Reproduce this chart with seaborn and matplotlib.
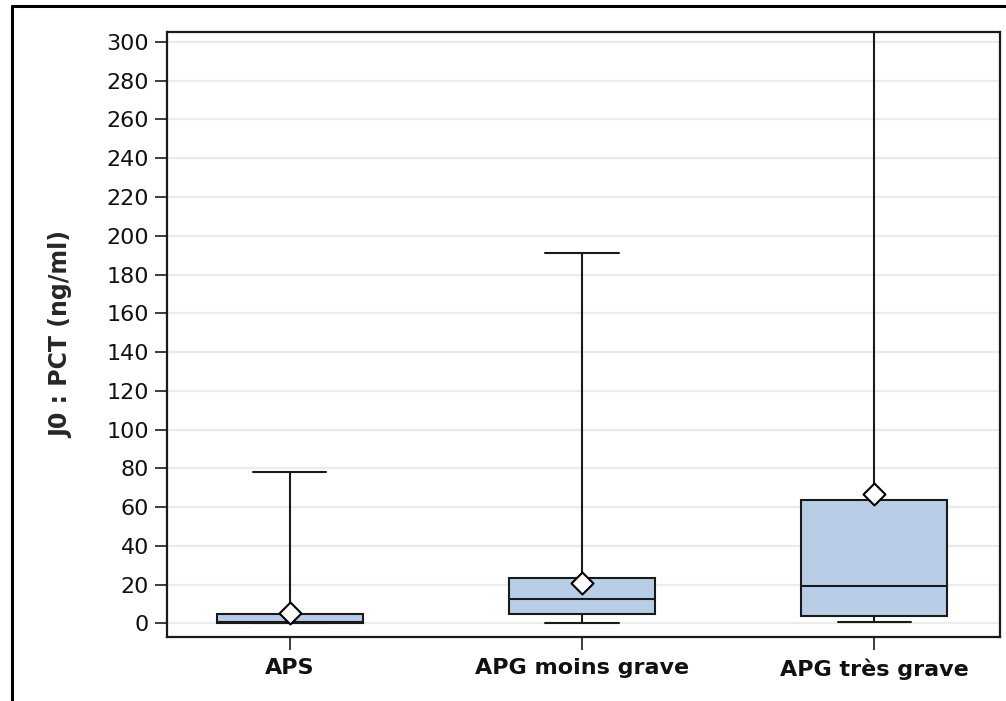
import pandas as pd
import matplotlib
matplotlib.use("Agg")
import matplotlib.pyplot as plt
import seaborn as sns
from matplotlib.lines import Line2D

# five-number summaries (min, Q1, median, Q3, max)
groups = ["APS", "APG moins grave", "APG très grave"]
mins = [0.0, 0.0, 0.5]
q1s = [0.1, 4.8, 3.8]
medians = [0.8, 12.4, 19.2]
q3s = [5.1, 23.2, 63.6]
maxs = [78.2, 191.0, 380.0]
means = [5.2, 21.1, 67.0]

ticks = list(range(0, 301, 20))

rows = []
for g, a, b, c, d, e in zip(groups, mins, q1s, medians, q3s, maxs):
    for v in (a, b, c, d, e):
        rows.append({"groupe": g, "pct": v})
data = pd.DataFrame(rows)
mean_df = pd.DataFrame({"groupe": groups, "pct": means})

sns.set_style("white")
plt.rcParams["font.family"] = ["DejaVu Sans"]

fig = plt.figure(figsize=(10.06, 7.01), dpi=100)
ax = fig.add_axes([0.166, 0.091, 0.828, 0.863])

for t in ticks:
    ax.axhline(t, color="#ebebeb", linewidth=1.6, zorder=0)

sns.boxplot(
    data=data, x="groupe", y="pct", order=groups,
    whis=(0, 100), width=0.5, color="#b8cde6", saturation=1,
    linecolor="#1a1a1a", linewidth=1.5, showfliers=False, ax=ax,
)

sns.scatterplot(
    data=mean_df, x="groupe", y="pct", marker="D", s=125,
    color="white", edgecolor="black", linewidth=1.5, zorder=5, ax=ax,
    legend=False,
)

ax.set_xlim(-0.42, 2.43)
ax.set_ylim(-7.1, 305)
ax.set_yticks(ticks)
ax.set_xlabel("")
ax.set_ylabel("J0 : PCT (ng/ml)", fontsize=17, fontweight="bold", labelpad=24)
ax.tick_params(axis="y", labelsize=16, length=9, width=1.2, direction="out",
               left=True, pad=4, color="#1a1a1a", labelcolor="#111111")
ax.tick_params(axis="x", labelsize=16, length=9, width=1.2, direction="out",
               bottom=True, pad=6, color="#1a1a1a", labelcolor="#111111")
for lab in ax.get_xticklabels():
    lab.set_fontweight("bold")

for s in ax.spines.values():
    s.set_visible(True)
    s.set_color("#1a1a1a")
    s.set_linewidth(1.6)

# outer frame (only top and left edges are inside the picture)
fig.add_artist(Line2D([12 / 1006, 1], [1 - 6 / 701, 1 - 6 / 701],
                      transform=fig.transFigure, color="black", linewidth=2.2))
fig.add_artist(Line2D([12 / 1006, 12 / 1006], [0, 1 - 6 / 701],
                      transform=fig.transFigure, color="black", linewidth=2.2))

fig.savefig("out.png", dpi=100)
